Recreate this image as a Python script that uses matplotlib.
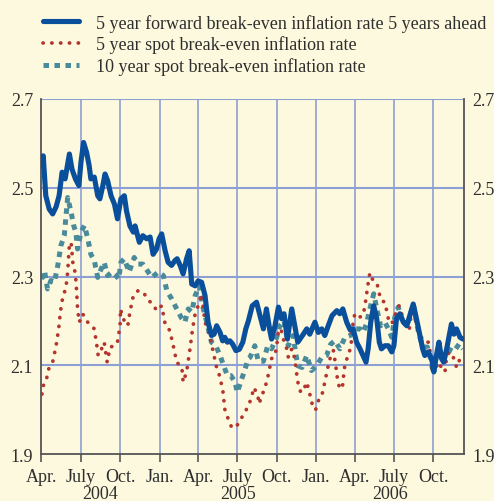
import numpy as np
import pandas as pd
import matplotlib
matplotlib.use("Agg")
import matplotlib.pyplot as plt
import matplotlib.dates as mdates

START = "2004-04-01"

# 5 year forward break-even inflation rate 5 years ahead (days since START, value)
fwd_days = [0, 4, 10, 18, 26, 34, 41, 48, 55, 65, 71, 79, 87, 92, 98, 105, 111, 115, 123, 131,
            136, 143, 148, 154, 162, 170, 177, 185, 193, 198, 206, 214, 218, 228, 236, 245, 253, 260, 268, 274,
            280, 288, 295, 303, 311, 316, 323, 330, 338, 344, 350, 358, 365, 373, 381, 388, 396, 402, 408, 416,
            422, 427, 433, 439, 445, 453, 461, 469, 476, 482, 491, 501, 509, 517, 524, 532, 536, 544, 552, 559,
            565, 573, 583, 590, 597, 602, 610, 618, 625, 637, 645, 653, 660, 668, 677, 688, 695, 702, 711, 719,
            726, 734, 742, 749, 756, 761, 767, 774, 781, 787, 792, 800, 808, 816, 821, 827, 835, 843, 851, 858,
            866, 872, 880, 888, 893, 901, 909, 914, 920, 926, 932, 937, 944, 950, 955, 961, 967, 975, 982]
fwd_vals = [2.550, 2.572, 2.482, 2.452, 2.441, 2.457, 2.482, 2.535, 2.520, 2.576, 2.542, 2.520, 2.505, 2.558, 2.602, 2.580, 2.550, 2.520, 2.524, 2.482,
            2.475, 2.505, 2.531, 2.516, 2.482, 2.463, 2.430, 2.475, 2.482, 2.448, 2.414, 2.400, 2.414, 2.377, 2.392, 2.385, 2.389, 2.350, 2.362, 2.385,
            2.396, 2.358, 2.332, 2.325, 2.336, 2.340, 2.325, 2.306, 2.340, 2.358, 2.283, 2.279, 2.290, 2.287, 2.257, 2.197, 2.167, 2.170, 2.189, 2.174,
            2.155, 2.163, 2.152, 2.155, 2.148, 2.133, 2.136, 2.152, 2.182, 2.200, 2.234, 2.242, 2.212, 2.182, 2.227, 2.178, 2.159, 2.189, 2.231, 2.205,
            2.216, 2.159, 2.227, 2.189, 2.152, 2.159, 2.170, 2.182, 2.170, 2.197, 2.174, 2.182, 2.167, 2.189, 2.212, 2.223, 2.216, 2.227, 2.197, 2.180,
            2.182, 2.152, 2.137, 2.122, 2.107, 2.137, 2.197, 2.234, 2.205, 2.152, 2.137, 2.144, 2.144, 2.130, 2.144, 2.205, 2.216, 2.197, 2.189, 2.212,
            2.238, 2.212, 2.174, 2.137, 2.122, 2.130, 2.115, 2.085, 2.122, 2.152, 2.115, 2.107, 2.137, 2.167, 2.193, 2.170, 2.182, 2.163, 2.159]

# 5 year spot break-even inflation rate
spot5_days = [1, 4, 10, 17, 26, 34, 40, 44, 49, 57, 61, 63, 65, 69, 73, 79, 82, 84, 88, 96,
              104, 113, 123, 129, 132, 140, 146, 153, 160, 171, 177, 183, 184, 190, 201, 206, 214, 225, 237, 249,
              260, 268, 280, 288, 299, 307, 315, 327, 330, 338, 346, 352, 358, 365, 373, 377, 381, 392, 400, 408,
              416, 423, 427, 435, 443, 453, 462, 474, 484, 490, 495, 504, 507, 513, 521, 528, 536, 544, 548, 552,
              558, 563, 569, 575, 583, 590, 595, 598, 604, 610, 618, 624, 629, 633, 639, 645, 653, 660, 664, 668,
              674, 680, 685, 690, 695, 701, 705, 708, 715, 721, 726, 730, 740, 749, 753, 756, 759, 762, 765, 771,
              777, 782, 787, 792, 800, 804, 808, 816, 823, 833, 839, 847, 857, 862, 870, 878, 885, 893, 901, 905,
              909, 917, 924, 932, 940, 944, 951, 961, 967, 975, 981]
spot5_vals = [2.035, 2.054, 2.062, 2.092, 2.107, 2.144, 2.182, 2.220, 2.250, 2.276, 2.310, 2.340, 2.373, 2.377, 2.332, 2.306, 2.265, 2.227, 2.197, 2.216,
              2.200, 2.193, 2.182, 2.144, 2.122, 2.137, 2.152, 2.107, 2.141, 2.144, 2.152, 2.189, 2.227, 2.205, 2.189, 2.220, 2.257, 2.268, 2.265, 2.246,
              2.238, 2.223, 2.234, 2.193, 2.178, 2.144, 2.107, 2.095, 2.062, 2.085, 2.137, 2.182, 2.216, 2.234, 2.261, 2.227, 2.197, 2.167, 2.130, 2.095,
              2.073, 2.039, 2.001, 1.979, 1.960, 1.960, 1.975, 1.994, 2.013, 2.031, 2.050, 2.031, 2.013, 2.031, 2.050, 2.077, 2.115, 2.122, 2.144, 2.178,
              2.182, 2.159, 2.148, 2.118, 2.137, 2.115, 2.077, 2.058, 2.039, 2.043, 2.062, 2.039, 2.020, 2.001, 2.001, 2.020, 2.031, 2.062, 2.081, 2.099,
              2.122, 2.133, 2.103, 2.065, 2.047, 2.050, 2.088, 2.107, 2.122, 2.144, 2.197, 2.216, 2.208, 2.212, 2.231, 2.250, 2.272, 2.291, 2.308, 2.294,
              2.291, 2.283, 2.261, 2.246, 2.242, 2.223, 2.205, 2.193, 2.212, 2.234, 2.216, 2.200, 2.182, 2.220, 2.208, 2.174, 2.163, 2.152, 2.152, 2.133,
              2.095, 2.088, 2.107, 2.095, 2.085, 2.122, 2.130, 2.115, 2.095, 2.115, 2.122]

# 10 year spot break-even inflation rate
spot10_days = [0, 7, 14, 22, 30, 38, 45, 53, 61, 69, 75, 80, 84, 92, 100, 108, 115, 123, 131, 139,
               146, 154, 164, 174, 180, 185, 193, 204, 216, 224, 236, 241, 257, 272, 284, 292, 303, 315, 327, 334,
               342, 350, 358, 368, 377, 385, 396, 406, 416, 427, 433, 441, 451, 456, 464, 472, 482, 486, 497, 505,
               517, 527, 536, 548, 555, 565, 575, 586, 597, 607, 618, 629, 641, 653, 664, 674, 684, 695, 707, 719,
               730, 742, 749, 757, 765, 774, 782, 790, 800, 808, 816, 823, 831, 841, 852, 858, 866, 872, 880, 889,
               899, 906, 913, 920, 928, 937, 945, 955, 965, 973, 982]
spot10_vals = [2.294, 2.313, 2.272, 2.291, 2.287, 2.325, 2.369, 2.392, 2.478, 2.445, 2.415, 2.400, 2.362, 2.400, 2.415, 2.385, 2.350, 2.336, 2.298, 2.317,
               2.332, 2.302, 2.310, 2.302, 2.294, 2.332, 2.340, 2.310, 2.343, 2.328, 2.328, 2.321, 2.298, 2.310, 2.302, 2.268, 2.250, 2.227, 2.205, 2.197,
               2.227, 2.220, 2.257, 2.279, 2.227, 2.197, 2.152, 2.144, 2.122, 2.092, 2.077, 2.077, 2.062, 2.039, 2.062, 2.085, 2.115, 2.118, 2.144, 2.109,
               2.109, 2.144, 2.137, 2.163, 2.189, 2.200, 2.144, 2.167, 2.099, 2.095, 2.122, 2.088, 2.099, 2.118, 2.122, 2.148, 2.155, 2.137, 2.163, 2.167,
               2.182, 2.182, 2.174, 2.193, 2.227, 2.261, 2.223, 2.189, 2.197, 2.182, 2.163, 2.208, 2.231, 2.200, 2.193, 2.208, 2.238, 2.205, 2.167, 2.141,
               2.141, 2.115, 2.081, 2.122, 2.122, 2.115, 2.122, 2.141, 2.137, 2.148, 2.137]

labels = ["5 year forward break-even inflation rate 5 years ahead",
          "5 year spot break-even inflation rate",
          "10 year spot break-even inflation rate"]
y_ticks = [1.9, 2.1, 2.3, 2.5, 2.7]
month_names = {1: "Jan.", 4: "Apr.", 7: "July", 10: "Oct."}
years = ["2004", "2005", "2006"]

BG = "#fdf9de"
GRID = "#8e9fd6"
BLUE = "#0a4f9c"
RED = "#b3352e"
TEAL = "#4a8b9b"
TXT = "#2e2e2e"
FS = 13

plt.rcParams["font.family"] = ["Liberation Serif", "DejaVu Serif"]

def to_dates(days):
    return pd.Timestamp(START) + pd.to_timedelta(np.array(days), unit="D")

fig = plt.figure(figsize=(4.94, 5.02), dpi=100, facecolor=BG)
ax = fig.add_axes([0.084, 0.0936, 0.855, 0.7072], facecolor=BG)

x0 = pd.Timestamp(START)
x1 = x0 + pd.Timedelta(days=984)
ax.set_xlim(x0, x1)
ax.set_ylim(1.9, 2.7)

# grid
qticks = pd.date_range("2004-04-01", "2006-10-01", freq="QS-JAN")
for t in qticks[1:]:
    ax.axvline(t, color=GRID, lw=1.2, zorder=1)
for v in [2.1, 2.3, 2.5, 2.7]:
    ax.axhline(v, color=GRID, lw=1.5, zorder=1)

l1, = ax.plot(to_dates(fwd_days), fwd_vals, color=BLUE, lw=3.7, solid_joinstyle="round",
              solid_capstyle="round", zorder=4, label=labels[0])
l2, = ax.plot(to_dates(spot5_days), spot5_vals, color=RED, lw=2.7, linestyle=(0, (0.05, 2.3)),
              dash_capstyle="round", zorder=3, label=labels[1])
l3, = ax.plot(to_dates(spot10_days), spot10_vals, color=TEAL, lw=3.6, linestyle=(0, (1.1, 1.1)),
              dash_capstyle="butt", zorder=2, label=labels[2])

# spines
for s in ["left", "right", "bottom"]:
    ax.spines[s].set_color("#555555")
    ax.spines[s].set_linewidth(1.3)
ax.spines["top"].set_visible(False)

# y ticks both sides
ax.set_yticks(y_ticks)
ax.set_yticklabels([f"{v:.1f}" for v in y_ticks])
ax.tick_params(axis="y", which="both", length=0, labelsize=FS, colors=TXT,
               left=True, right=True, labelleft=True, labelright=True, pad=6)

# x ticks
ax.set_xticks(qticks)
ax.set_xticklabels([month_names[t.month] for t in qticks])
ax.tick_params(axis="x", length=6, width=1.2, color="#555555", labelsize=FS,
               labelcolor=TXT, pad=4, direction="out")
jan_ticks = [t for t in qticks if t.month == 1]
ax.set_xticks(jan_ticks, minor=True)
ax.tick_params(axis="x", which="minor", length=9, width=1.2, color="#555555")

# year labels
year_spans = [(pd.Timestamp("2004-04-01"), pd.Timestamp("2005-01-01")),
              (pd.Timestamp("2005-01-01"), pd.Timestamp("2006-01-01")),
              (pd.Timestamp("2006-01-01"), x1)]
for yr, (a, b) in zip(years, year_spans):
    mid = a + (b - a) / 2
    ax.text(mdates.date2num(mid), -0.088, yr, transform=ax.get_xaxis_transform(),
            ha="center", va="top", fontsize=FS, color=TXT)

leg = fig.legend(handles=[l1, l2, l3], loc="upper left", bbox_to_anchor=(0.072, 0.985),
                 frameon=False, fontsize=FS, handlelength=2.0, handletextpad=0.95,
                 labelspacing=0.22, borderaxespad=0)
for t in leg.get_texts():
    t.set_color(TXT)

fig.savefig("out.png", dpi=100, facecolor=BG)
